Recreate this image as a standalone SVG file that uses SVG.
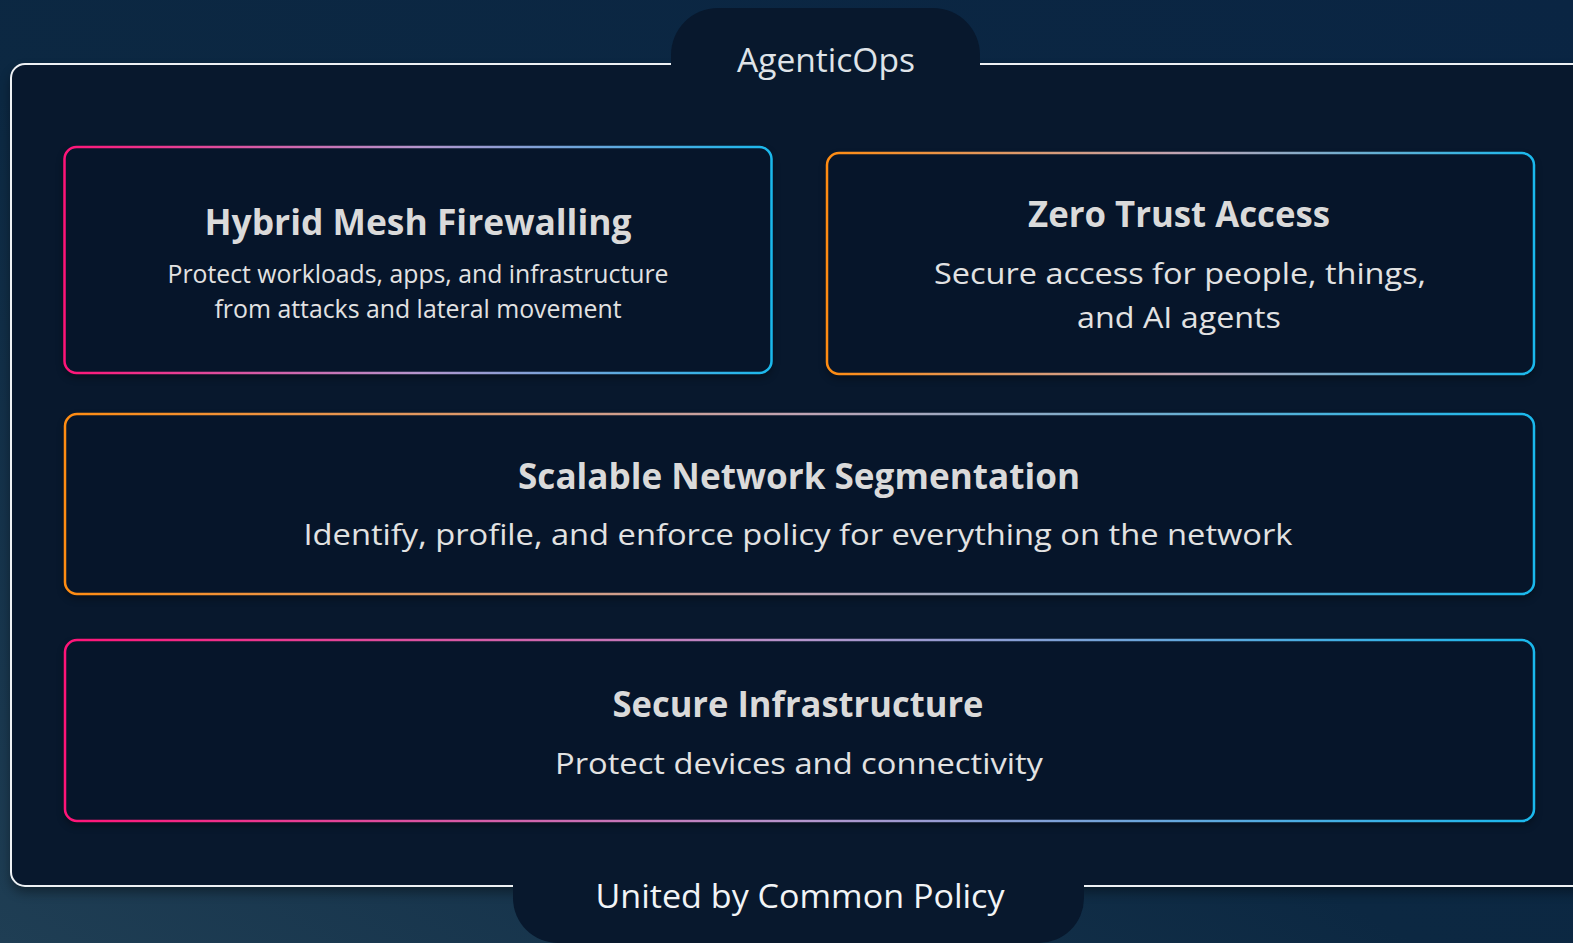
<svg xmlns="http://www.w3.org/2000/svg" width="1573" height="943" viewBox="0 0 1573 943">
  <defs>
    <linearGradient id="bg" x1="1" y1="0" x2="0" y2="1">
      <stop offset="0" stop-color="#0a2543"/>
      <stop offset="0.55" stop-color="#0c2842"/>
      <stop offset="1" stop-color="#1f3e54"/>
    </linearGradient>
    <linearGradient id="pinkCyan" x1="0" y1="0" x2="1" y2="0">
      <stop offset="0" stop-color="#ff1478"/>
      <stop offset="0.5" stop-color="#b595cc"/>
      <stop offset="1" stop-color="#1ab8ec"/>
    </linearGradient>
    <linearGradient id="orangeCyan" x1="0" y1="0" x2="1" y2="0">
      <stop offset="0" stop-color="#ff8c12"/>
      <stop offset="0.5" stop-color="#c0a4b4"/>
      <stop offset="1" stop-color="#1ab8ec"/>
    </linearGradient>
    <filter id="blur" x="-5%" y="-10%" width="110%" height="125%" color-interpolation-filters="sRGB">
      <feGaussianBlur stdDeviation="6"/>
    </filter>
    <filter id="blurSm" x="-5%" y="-10%" width="110%" height="125%" color-interpolation-filters="sRGB">
      <feGaussianBlur stdDeviation="4"/>
    </filter>
  </defs>
  <style>
    .frame { fill: #08182d; stroke: #eef1f4; stroke-width: 2; }
    .tab { fill: #08182d; }
    .box { fill: #06152a; stroke-width: 2.5; }
    .shadow { fill: #000000; opacity: 0.4; }
    .pink { stroke: url(#pinkCyan); }
    .orange { stroke: url(#orangeCyan); }
    text { font-family: "Open Sans", "Noto Sans", "Liberation Sans", sans-serif; text-anchor: middle; }
    .title { font-size: 35px; font-weight: 700; fill: #dadada; }
    .sub { font-size: 30px; fill: #e2e2e2; }
    .sub-sm { font-size: 25px; fill: #e2e2e2; }
    .tabtext { font-size: 32px; fill: #dfe3e8; }
    .tabtext-w { font-size: 32px; fill: #f2f4f6; }
  </style>

  <rect x="0" y="0" width="1573" height="943" fill="url(#bg)"/>

  <g id="frame">
    <rect class="shadow" x="11" y="70" width="1600" height="822" rx="14" filter="url(#blur)"/>
    <rect class="frame" x="11" y="64" width="1600" height="822" rx="14"/>
  </g>

  <g id="tab-agenticops">
    <path class="tab" d="M671,72 V55 A47,47 0 0 1 718,8 H933 A47,47 0 0 1 980,55 V72 Z"/>
    <text class="tabtext" x="826" y="72" textLength="178" lengthAdjust="spacingAndGlyphs">AgenticOps</text>
  </g>

  <g id="tab-policy">
    <path class="tab" d="M513,870 V898 A45,45 0 0 0 558,943 H1039 A45,45 0 0 0 1084,898 V870 Z"/>
    <text class="tabtext-w" x="800" y="908" textLength="409" lengthAdjust="spacingAndGlyphs">United by Common Policy</text>
  </g>

  <g id="hybrid-mesh-firewalling">
    <rect class="shadow" x="64.5" y="151" width="707" height="226" rx="12" filter="url(#blurSm)"/>
    <rect class="box pink" x="64.5" y="147" width="707" height="226" rx="12"/>
    <text class="title" x="418" y="235" textLength="427" lengthAdjust="spacingAndGlyphs">Hybrid Mesh Firewalling</text>
    <text class="sub-sm" x="418" y="283" textLength="501" lengthAdjust="spacingAndGlyphs">Protect workloads, apps, and infrastructure</text>
    <text class="sub-sm" x="418" y="318" textLength="407" lengthAdjust="spacingAndGlyphs">from attacks and lateral movement</text>
  </g>

  <g id="zero-trust-access">
    <rect class="shadow" x="827" y="157" width="707" height="221" rx="12" filter="url(#blurSm)"/>
    <rect class="box orange" x="827" y="153" width="707" height="221" rx="12"/>
    <text class="title" x="1179" y="227" textLength="302" lengthAdjust="spacingAndGlyphs">Zero Trust Access</text>
    <text class="sub" x="1180" y="284" textLength="492" lengthAdjust="spacingAndGlyphs">Secure access for people, things,</text>
    <text class="sub" x="1179" y="328" textLength="204" lengthAdjust="spacingAndGlyphs">and AI agents</text>
  </g>

  <g id="scalable-network-segmentation">
    <rect class="shadow" x="65" y="418" width="1469" height="180" rx="12" filter="url(#blurSm)"/>
    <rect class="box orange" x="65" y="414" width="1469" height="180" rx="12"/>
    <text class="title" x="799" y="489" textLength="562" lengthAdjust="spacingAndGlyphs">Scalable Network Segmentation</text>
    <text class="sub" x="798" y="545" textLength="989" lengthAdjust="spacingAndGlyphs">Identify, profile, and enforce policy for everything on the network</text>
  </g>

  <g id="secure-infrastructure">
    <rect class="shadow" x="65" y="644" width="1469" height="181" rx="12" filter="url(#blurSm)"/>
    <rect class="box pink" x="65" y="640" width="1469" height="181" rx="12"/>
    <text class="title" x="798" y="717" textLength="371" lengthAdjust="spacingAndGlyphs">Secure Infrastructure</text>
    <text class="sub" x="799" y="774" textLength="488" lengthAdjust="spacingAndGlyphs">Protect devices and connectivity</text>
  </g>

  <g id="connectors"></g>
</svg>
